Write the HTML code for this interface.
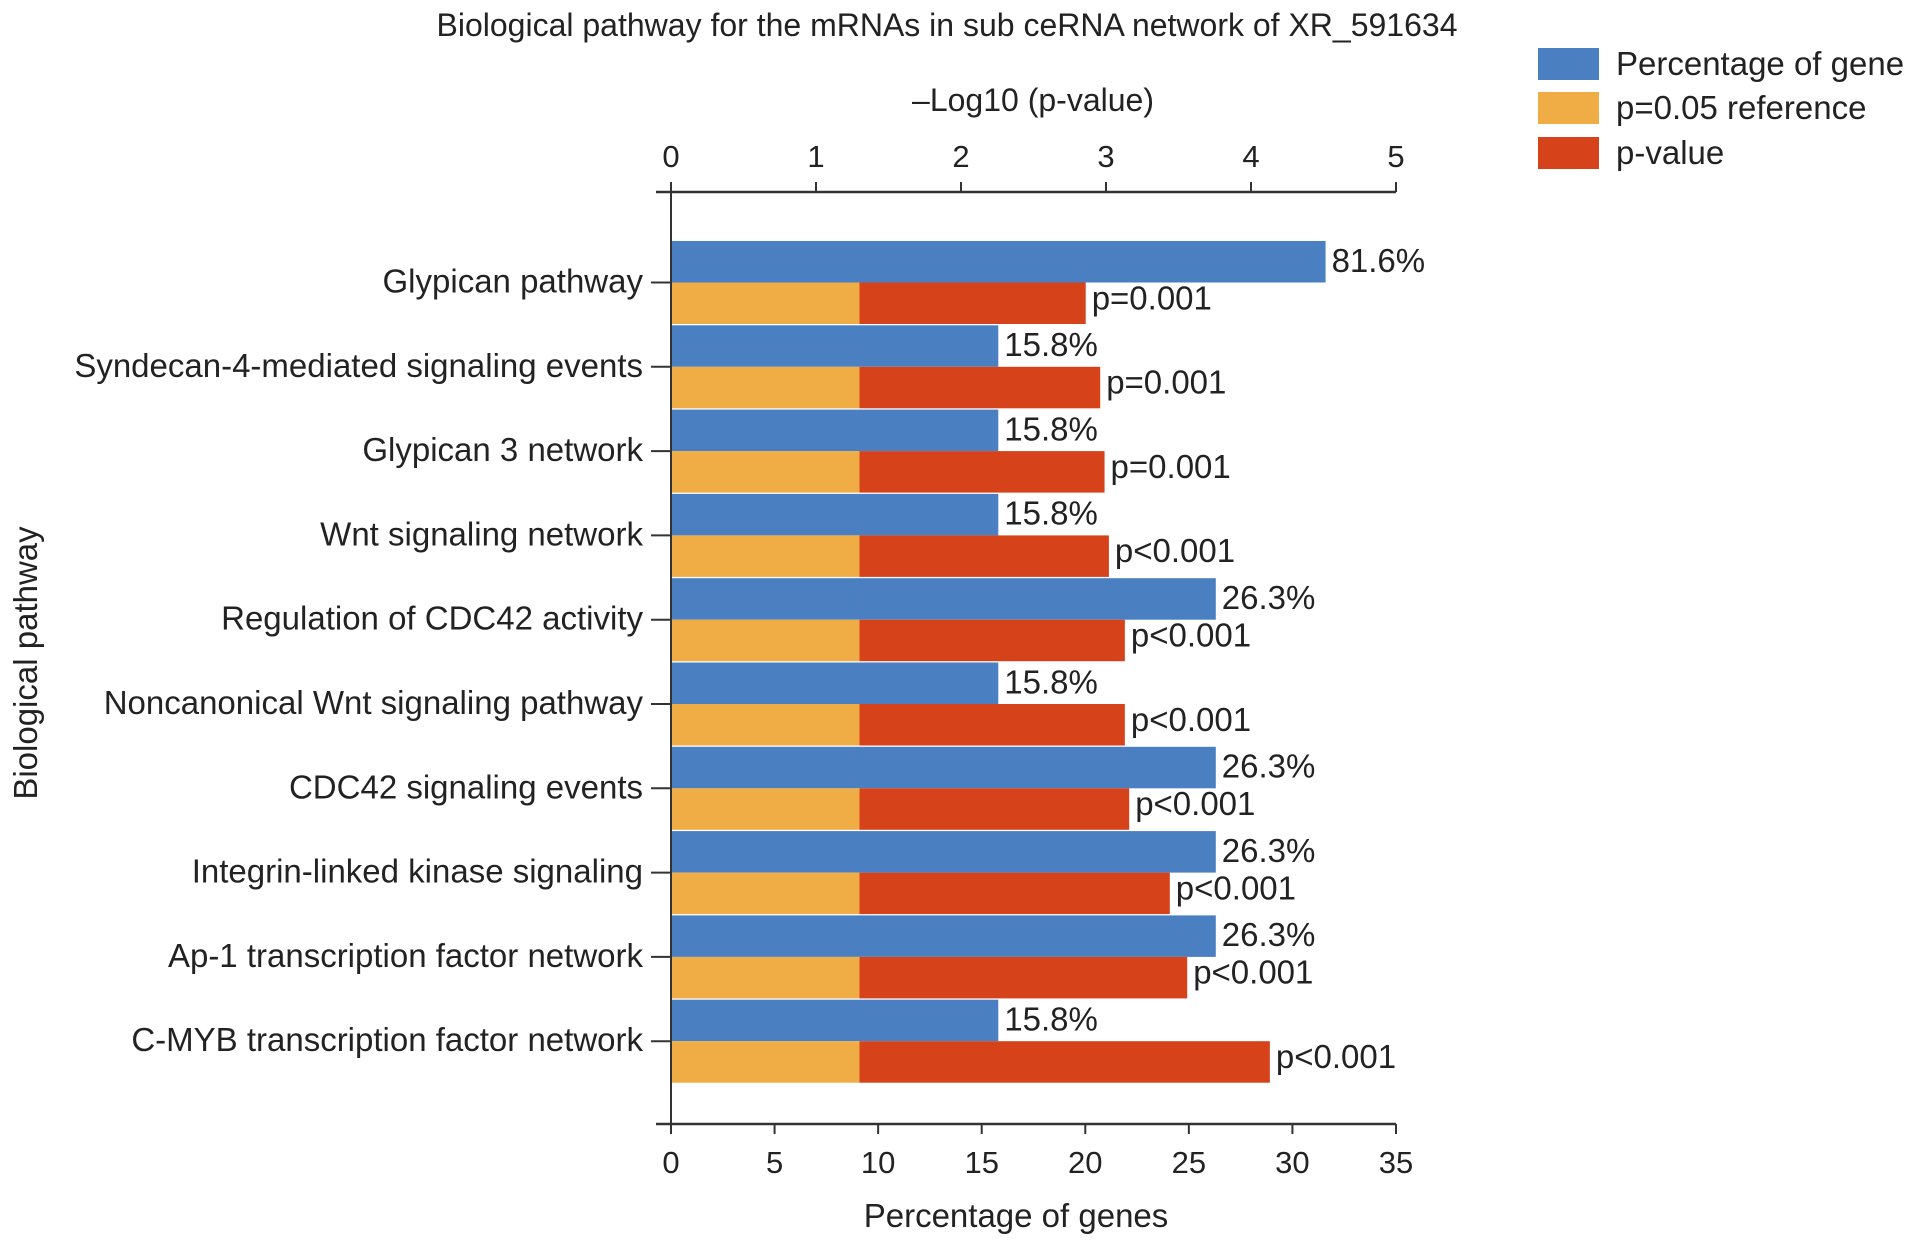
<!DOCTYPE html>
<html><head><meta charset="utf-8"><style>
html,body{margin:0;padding:0;background:#fff;}
svg{display:block;font-family:"Liberation Sans",sans-serif;}
</style></head><body>
<svg id="chart" width="1913" height="1244" viewBox="0 0 1913 1244">
<text x="947" y="36" font-size="32" text-anchor="middle" fill="#222">Biological pathway for the mRNAs in sub ceRNA network of XR_591634</text>
<g id="legend">
<g><rect x="1538" y="48" width="61" height="32" fill="#4a7fc2"/><text x="1616" y="75" font-size="33" fill="#222">Percentage of gene</text></g>
<g><rect x="1538" y="92" width="61" height="32" fill="#f0ad45"/><text x="1616" y="119" font-size="33" fill="#222">p=0.05 reference</text></g>
<g><rect x="1538" y="137" width="61" height="32" fill="#d6421a"/><text x="1616" y="164" font-size="33" fill="#222">p-value</text></g>
</g>
<g id="plot"></g>
<text x="1033" y="111" font-size="32" text-anchor="middle" fill="#222">–Log10 (p-value)</text>
<text x="1016" y="1227" font-size="33" text-anchor="middle" fill="#222">Percentage of genes</text>
<text transform="translate(37,663) rotate(-90)" font-size="33" text-anchor="middle" fill="#222">Biological pathway</text>
</svg>
<script>
const categories = ["Glypican pathway","Syndecan-4-mediated signaling events","Glypican 3 network","Wnt signaling network","Regulation of CDC42 activity","Noncanonical Wnt signaling pathway","CDC42 signaling events","Integrin-linked kinase signaling","Ap-1 transcription factor network","C-MYB transcription factor network"];
const pctValues = [31.6,15.8,15.8,15.8,26.3,15.8,26.3,26.3,26.3,15.8];
const pctLabels = ["81.6%","15.8%","15.8%","15.8%","26.3%","15.8%","26.3%","26.3%","26.3%","15.8%"];
const logP = [2.86,2.96,2.99,3.02,3.13,3.13,3.16,3.44,3.56,4.13];
const pLabels = ["p=0.001","p=0.001","p=0.001","p<0.001","p<0.001","p<0.001","p<0.001","p<0.001","p<0.001","p<0.001"];
const refLog = 1.30;
const bottomTicks = [0,5,10,15,20,25,30,35];
const topTicks = [0,1,2,3,4,5];

const NS = "http://www.w3.org/2000/svg";
const X0 = 671, X1 = 1396, TOPY = 192, BOTY = 1124;
const xPct = v => X0 + v / 35 * (X1 - X0);
const xLog = v => X0 + v / 5 * (X1 - X0);
const firstTop = 241, groupStep = 84.3, barH = 41.5;
const g = document.getElementById('plot');
function mk(tag, attrs, parent) {
  const e = document.createElementNS(NS, tag);
  for (const k in attrs) e.setAttribute(k, attrs[k]);
  (parent || g).appendChild(e);
  return e;
}
categories.forEach((c, i) => {
  const yTop = firstTop + i * groupStep;
  const b = mk('rect', {x: X0, y: yTop, width: xPct(pctValues[i]) - X0, height: barH, fill: '#4a7fc2'});
  
  
  const o = mk('rect', {x: X0, y: yTop + barH, width: xLog(refLog) - X0, height: barH, fill: '#f0ad45'});
  
  
  const r = mk('rect', {x: xLog(refLog), y: yTop + barH, width: xLog(logP[i]) - xLog(refLog), height: barH, fill: '#d6421a'});
  
  
  const t1 = mk('text', {x: xPct(pctValues[i]) + 6, y: yTop + barH / 2 + 10, 'font-size': 33, fill: '#222'});
  t1.textContent = pctLabels[i];
  
  
  const t2 = mk('text', {x: xLog(logP[i]) + 6, y: yTop + barH * 1.5 + 6, 'font-size': 33, fill: '#222'});
  t2.textContent = pLabels[i];
  
  
  const ty = yTop + barH;
  mk('line', {x1: 651, x2: X0, y1: ty, y2: ty, stroke: '#333', 'stroke-width': 2});
  const cl = mk('text', {x: 643, y: ty + 10, 'font-size': 33, 'text-anchor': 'end', fill: '#222'});
  cl.textContent = c;
  
  
});
mk('line', {x1: X0, x2: X0, y1: TOPY, y2: BOTY, stroke: '#333', 'stroke-width': 2});
mk('line', {x1: 656, x2: X1, y1: TOPY, y2: TOPY, stroke: '#333', 'stroke-width': 2.5});
mk('line', {x1: 656, x2: X1, y1: BOTY, y2: BOTY, stroke: '#333', 'stroke-width': 2.5});
topTicks.forEach(t => {
  mk('line', {x1: xLog(t), x2: xLog(t), y1: TOPY, y2: TOPY - 10, stroke: '#333', 'stroke-width': 2});
  const tl = mk('text', {x: xLog(t), y: 167, 'font-size': 31, 'text-anchor': 'middle', fill: '#222'});
  tl.textContent = t;
  
  
});
bottomTicks.forEach(t => {
  mk('line', {x1: xPct(t), x2: xPct(t), y1: BOTY, y2: BOTY + 10, stroke: '#333', 'stroke-width': 2});
  const tl = mk('text', {x: xPct(t), y: 1173, 'font-size': 31, 'text-anchor': 'middle', fill: '#222'});
  tl.textContent = t;
  
  
});
</script>
</body></html>
